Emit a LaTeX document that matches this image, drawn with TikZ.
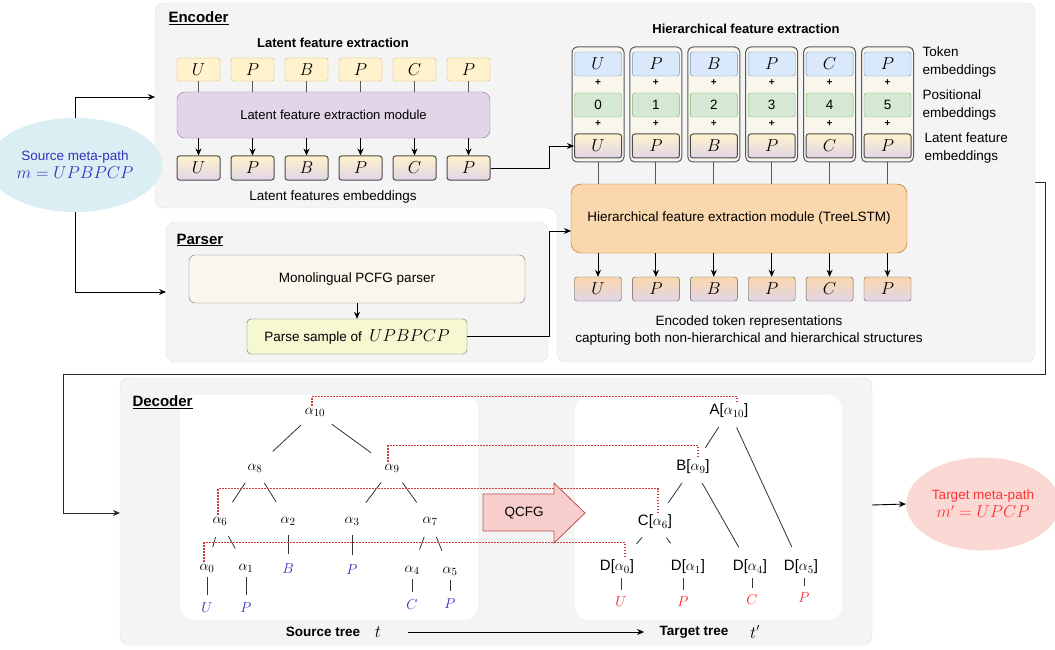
\documentclass[tikz,border=0pt]{standalone}
\usepackage{fontspec}
\setmainfont{Liberation Sans}
\usetikzlibrary{arrows.meta,shapes.geometric}

\definecolor{panelgray}{HTML}{F4F4F4}
\definecolor{panelline}{HTML}{DEDEDE}
\definecolor{tokfill}{HTML}{FFF2CC}
\definecolor{tokline}{HTML}{D6B656}
\definecolor{modfill}{HTML}{E1D5E7}
\definecolor{modline}{HTML}{9673A6}
\definecolor{embfill}{HTML}{DAE8FC}
\definecolor{embline}{HTML}{6C8EBF}
\definecolor{posfill}{HTML}{D5E8D4}
\definecolor{posline}{HTML}{82B366}
\definecolor{colfill}{HTML}{F9F7ED}
\definecolor{lstmfill}{HTML}{FAD7AC}
\definecolor{lstmline}{HTML}{B46504}
\definecolor{samplefill}{HTML}{F6F8D2}
\definecolor{srcfill}{HTML}{DAEEF3}
\definecolor{srctext}{HTML}{3333BB}
\definecolor{tgtfill}{HTML}{FAD9D5}
\definecolor{tgttext}{HTML}{FF3333}
\definecolor{qfill}{HTML}{F8CECC}
\definecolor{qline}{HTML}{B85450}
\definecolor{dotred}{HTML}{D03A3A}
\definecolor{leafblue}{HTML}{3030C0}
\definecolor{leafred}{HTML}{FF2020}

\newcommand{\mfont}{\fontsize{16}{18}\selectfont}

\tikzset{
  panel/.style={draw=panelline, fill=panelgray, rounded corners=9pt},
  heading/.style={font=\fontsize{15}{18}\selectfont\bfseries, anchor=west},
  subhead/.style={font=\fontsize{13}{16}\selectfont\bfseries},
  tokbox/.style={draw=tokline, fill=tokfill, rounded corners=2.5pt, minimum width=43pt, minimum height=23pt, inner sep=0pt, font=\mfont},
  latbox/.style={draw=black!70, line width=1pt, top color=tokfill, bottom color=modfill, rounded corners=2.5pt, minimum width=43pt, minimum height=24pt, inner sep=0pt, font=\mfont},
  modbox/.style={draw=modline, fill=modfill, rounded corners=8pt, minimum width=313pt, minimum height=46pt},
  colbox/.style={draw=black!65, line width=1pt, fill=colfill, rounded corners=5pt, minimum width=52pt, minimum height=115pt, inner sep=0pt},
  embbox/.style={draw=embline, fill=embfill, rounded corners=2.5pt, minimum width=47pt, minimum height=24pt, inner sep=0pt, font=\mfont},
  posbox/.style={draw=posline, fill=posfill, rounded corners=2.5pt, minimum width=47pt, minimum height=24pt, inner sep=0pt},
  hlatbox/.style={latbox, minimum width=47pt},
  lstmbox/.style={draw=lstmline, fill=lstmfill, rounded corners=10pt, minimum width=336pt, minimum height=69pt},
  encbox/.style={draw=black!65, top color=lstmfill, bottom color=modfill, rounded corners=2.5pt, minimum width=47pt, minimum height=24pt, inner sep=0pt, font=\mfont},
  pcfgbox/.style={draw=black!55, fill=colfill, rounded corners=6pt, minimum width=336pt, minimum height=48pt},
  samplebox/.style={draw=black!60, fill=samplefill, rounded corners=4pt, minimum width=220pt, minimum height=35pt},
  wire/.style={draw=black!65, line width=1pt},
  arr/.style={->, line width=0.9pt},
  tnode/.style={inner sep=2pt, font=\fontsize{15}{17}\selectfont},
  srcleaf/.style={tnode, text=leafblue},
  tgtleaf/.style={tnode, text=leafred},
  branch/.style={line width=0.8pt, black!80, shorten <=10pt, shorten >=15pt},
  stem/.style={line width=0.8pt, black!80, shorten <=3pt, shorten >=6pt},
  tbranch/.style={line width=0.8pt, black!80, shorten <=8pt, shorten >=12pt},
  corr/.style={draw=dotred, line width=1.6pt, dash pattern=on 1.5pt off 1.5pt},
}

\begin{document}
\begin{tikzpicture}[x=1pt, y=-1pt, font=\fontsize{13.5}{16}\selectfont,
  >={Stealth[length=7pt,width=6pt]}]
\useasboundingbox (0,0) rectangle (1055,650);

% panels
\draw[panel] (155,3) -- (1035,3) -- (1035,362) -- (557,362) -- (557,208) -- (155,208) -- cycle;
\draw[panel] (166,222) rectangle (548,362);
\draw[panel] (120,378) rectangle (872,645);
\fill[white, rounded corners=14pt] (180,395) rectangle (478,620);
\fill[white, rounded corners=14pt] (575,395) rectangle (842,620);

\node[heading] (enctitle) at (165,18) {\underline{Encoder}};
\node[heading] (partitle) at (173,240) {\underline{Parser}};
\node[heading] (dectitle) at (129,402) {\underline{Decoder}};

% source / target meta-paths
\node[ellipse, fill=srcfill, minimum width=146pt, minimum height=94pt, text=srctext, align=center] (src) at (75,165)
  {Source meta-path\\[2pt] {\mfont $m=UPBPCP$}};
\node[ellipse, fill=tgtfill, minimum width=139pt, minimum height=93pt, text=tgttext, align=center] (tgt) at (983,504)
  {Target meta-path\\[2pt] {\mfont $m'=UPCP$}};

\coordinate (encin) at (155,97);
\coordinate (parsin) at (166,292);
\draw[arr] (src.north) |- (encin);
\draw[arr] (src.south) |- (parsin);

% latent feature extraction
\node[subhead] (lfetitle) at (333,43) {Latent feature extraction};
\node[modbox, font=\fontsize{13}{16}\selectfont] (lfem) at (333.5,115) {Latent feature extraction module};
\foreach \l [count=\i from 0] in {U,P,B,P,C,P}
{
	\node[tokbox] (t\i) at (198.5+54*\i,69.5) {$\l$};
	\node[latbox] (l\i) at (198.5+54*\i,168) {$\l$};
	\draw[wire] (t\i) -- (t\i |- lfem.north);
	\draw[arr] (l\i |- lfem.south) -- (l\i);
}
\node (lfelbl) at (333,197) {Latent features embeddings};

% hierarchical feature extraction
\node[subhead] (hfetitle) at (746,29) {Hierarchical feature extraction};
\node[lstmbox] (lstm) at (739,218.5) {Hierarchical feature extraction module (TreeLSTM)};
\foreach \l [count=\i from 0] in {U,P,B,P,C,P}
{
	\node[colbox] (c\i) at (598+57.9*\i,104.5) {};
	\node[embbox] (e\i) at (598+57.9*\i,64) {$\l$};
	\node[font=\bfseries] (pa\i) at (598+57.9*\i,83) {+};
	\node[posbox] (p\i) at (598+57.9*\i,105) {\i};
	\node[font=\bfseries] (pb\i) at (598+57.9*\i,124) {+};
	\node[hlatbox] (h\i) at (598+57.9*\i,146) {$\l$};
	\node[encbox] (o\i) at (598+57.9*\i,289) {$\l$};
	\draw[wire] (c\i) -- (c\i |- lstm.north);
	\draw[arr] (o\i |- lstm.south) -- (o\i);
}
\node[anchor=west, align=left, font=\fontsize{13.5}{18}\selectfont] (toklbl) at (919,62) {Token\\embeddings};
\node[anchor=west, align=left, font=\fontsize{13.5}{18}\selectfont] (poslbl) at (919,105) {Positional\\embeddings};
\node[anchor=west, align=left, font=\fontsize{13.5}{18}\selectfont] (latlbl) at (921,148) {Latent feature\\embeddings};
\node[align=center, font=\fontsize{13.5}{17}\selectfont] (enclbl) at (749,331)
  {Encoded token representations\\capturing both non-hierarchical and hierarchical structures};

\draw[arr] (l5.east) -- ++(59,0) |- (h0.west);

% parser
\node[pcfgbox] (pcfg) at (357,279) {Monolingual PCFG parser};
\node[samplebox] (sample) at (357,336.5) {Parse sample of\ \ \mfont$UPBPCP$};
\draw[arr] (pcfg) -- (sample);
\coordinate (lstmin) at (571,231);
\draw[arr] (sample.east) -- ++(82,0) |- (lstmin);

% encoder to decoder
\coordinate (encout) at (1035,182);
\coordinate (decin) at (120,513);
\coordinate (decout) at (872,505);
\draw[arr, black!85] (encout) -- ++(10,0) |- (63,374) |- (decin);
\draw[arr] (decout) -- (tgt.west);

% source tree
\node[tnode] (a10) at (315,412) {$\alpha_{10}$};
\node[tnode] (a8) at (255,468) {$\alpha_8$};
\node[tnode] (a9) at (392,468) {$\alpha_9$};
\node[tnode] (a6) at (220,521) {$\alpha_6$};
\node[tnode] (a2) at (288,521) {$\alpha_2$};
\node[tnode] (a3) at (352,521) {$\alpha_3$};
\node[tnode] (a7) at (430,521) {$\alpha_7$};
\node[tnode] (a0) at (207,568) {$\alpha_0$};
\node[tnode] (a1) at (246,568) {$\alpha_1$};
\node[tnode] (a4) at (412,570) {$\alpha_4$};
\node[tnode] (a5) at (450,571) {$\alpha_5$};
\node[srcleaf] (sb) at (288,569) {$B$};
\node[srcleaf] (sp3) at (352,570) {$P$};
\node[srcleaf] (su) at (207,608) {$U$};
\node[srcleaf] (sp1) at (246,608) {$P$};
\node[srcleaf] (sc) at (412,605) {$C$};
\node[srcleaf] (sp5) at (450,604) {$P$};
\foreach \p/\c in {a10/a8, a10/a9, a8/a6, a8/a2, a9/a3, a9/a7, a6/a0, a6/a1, a7/a4, a7/a5}
	\draw[branch] (\p) -- (\c);
\foreach \p/\c in {a0/su, a1/sp1, a4/sc, a5/sp5}
	\draw[stem] (\p.south -| \c) -- (\c);
\draw[stem, shorten <=8pt, shorten >=8pt] (a2) -- (sb);
\draw[stem, shorten <=8pt, shorten >=8pt] (a3) -- (sp3);

% target tree
\node[tnode] (tA) at (729,411) {A[$\alpha_{10}$]};
\node[tnode] (tB) at (693,467) {B[$\alpha_9$]};
\node[tnode] (tC) at (655,522) {C[$\alpha_6$]};
\node[tnode] (tD0) at (617,567) {D[$\alpha_0$]};
\node[tnode] (tD1) at (688,567) {D[$\alpha_1$]};
\node[tnode] (tD4) at (750,567) {D[$\alpha_4$]};
\node[tnode] (tD5) at (801,567) {D[$\alpha_5$]};
\node[tgtleaf] (tu) at (621,602) {$U$};
\node[tgtleaf] (tp1) at (683,602) {$P$};
\node[tgtleaf] (tc) at (752,600) {$C$};
\node[tgtleaf] (tp5) at (804,598) {$P$};
\foreach \p/\c in {tA/tB, tA/tD5, tB/tC, tB/tD4}
	\draw[tbranch] (\p) -- (\c);
\draw[tbranch, shorten >=18pt] (tC) -- (tD0);
\draw[tbranch, shorten >=18pt] (tC) -- (tD1);
\foreach \p/\c in {tD0/tu, tD1/tp1, tD4/tc, tD5/tp5}
	\draw[stem, shorten <=2pt, shorten >=5pt] (\p.south -| \c) -- (\c);

% correspondences
\draw[corr] ([xshift=-3pt]a10.north) -- ++(0,-9) -| ([xshift=8pt]tA.north);
\draw[corr] ([xshift=-4pt]a9.north) -- ++(0,-16) -| ([xshift=5pt]tB.north);
\draw[corr] ([xshift=-2pt]a6.north) -- ++(0,-26) -| ([xshift=3pt]tC.north);
\draw[corr] ([xshift=-3pt]a0.north) -- ++(0,-19) -| ([xshift=8pt]tD0.north);

% QCFG arrow
\draw[draw=qline, fill=qfill, line width=0.8pt] (483,494) -- (554,494) -- (554,483) -- (585,513)
  -- (554,543) -- (554,531) -- (483,531) -- cycle;
\node (qcfg) at (524,513) {QCFG};

% bottom labels
\node[font=\fontsize{13.5}{16}\selectfont\bfseries] (srclbl) at (323,632) {Source tree};
\node (tsym) at (378,632) {\mfont$t$};
\node[font=\fontsize{13.5}{16}\selectfont\bfseries] (tgtlbl) at (694,632) {Target tree};
\node (tpsym) at (755,632) {\mfont$t'$};
\draw[arr] ([xshift=23pt]tsym.east) -- ([xshift=-12pt]tgtlbl.west);
\end{tikzpicture}
\end{document}
